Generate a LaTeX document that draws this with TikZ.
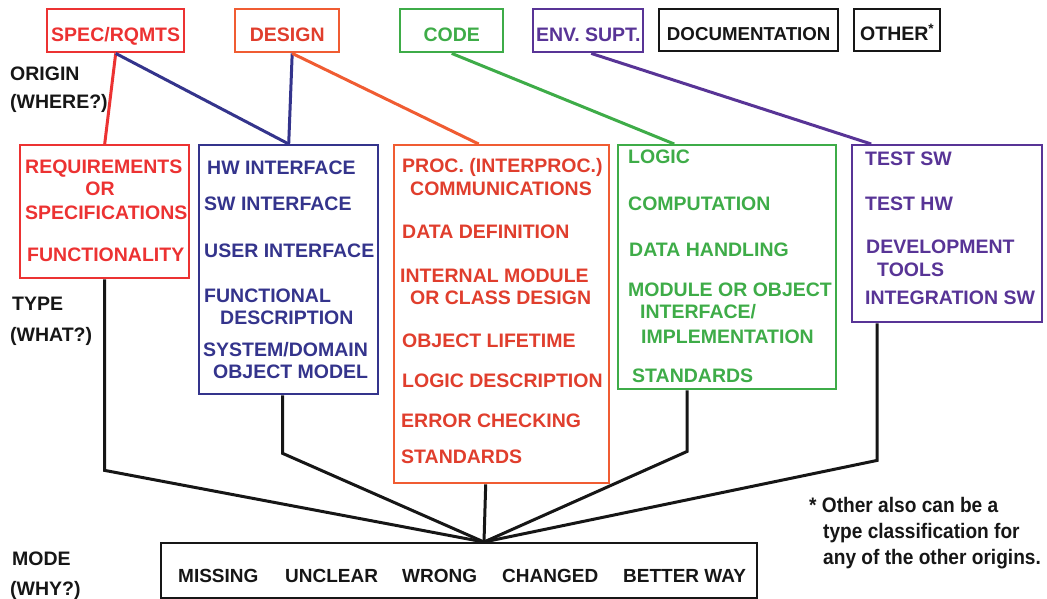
\documentclass[tikz,border=0pt]{standalone}
\usepackage{fontspec}
\setmainfont{Liberation Sans}
\newfontfamily\condfont[FakeStretch=0.91]{Liberation Sans}
\definecolor{cred}{RGB}{236,50,50}
\definecolor{corange}{RGB}{240,92,50}
\definecolor{cdred}{RGB}{224,62,45}
\definecolor{cgreen}{RGB}{62,172,72}
\definecolor{cnavy}{RGB}{52,52,140}
\definecolor{cpurple}{RGB}{88,52,150}
\definecolor{cblack}{RGB}{22,22,22}
\begin{document}
\begin{tikzpicture}[x=1pt,y=-1pt,
  box/.style={draw, line width=2.4pt, inner sep=0pt, anchor=north west},
  topbox/.style={box, font=\fontsize{19.5}{22}\selectfont\bfseries, text height=21pt, text depth=0pt},
  lbl/.style={inner sep=0pt, anchor=base west, font=\fontsize{19.5}{22}\selectfont\bfseries},
  mtxt/.style={inner sep=0pt, anchor=base west, font=\fontsize{19}{22}\selectfont\bfseries, text=cblack},
  note/.style={inner sep=0pt, anchor=base west, font=\condfont\fontsize{21}{24}\selectfont\bfseries, text=cblack},
  conn/.style={line width=3pt},
  link/.style={line width=3pt, draw=cblack},
]
\useasboundingbox (0,0) rectangle (1047,599);

% ---------- origin boxes ----------
\node[topbox, draw=cred, text=cred, minimum width=137pt, minimum height=43pt] (spec) at (46,8) {SPEC/RQMTS};
\node[topbox, draw=corange, text=cdred, minimum width=104pt, minimum height=43pt] (design) at (234,8) {DESIGN};
\node[topbox, draw=cgreen, text=cgreen, minimum width=103pt, minimum height=43pt] (code) at (399,8) {CODE};
\node[topbox, draw=cpurple, text=cpurple, minimum width=110pt, minimum height=43pt] (env) at (532,8) {ENV. SUPT.};
\node[topbox, draw=cblack, text=cblack, minimum width=179pt, minimum height=42pt, font=\fontsize{18.7}{22}\selectfont\bfseries] (doc) at (658,8) {DOCUMENTATION};
\node[topbox, draw=cblack, text=cblack, minimum width=86pt, minimum height=42pt] (other) at (853,8) {OTHER\textsuperscript{*}};

% ---------- type boxes ----------
\node[box, draw=cred, minimum width=169pt, minimum height=133pt] (req) at (19,144) {};
\node[box, draw=cnavy, minimum width=179pt, minimum height=249pt] (blue) at (198,144) {};
\node[box, draw=corange, minimum width=215pt, minimum height=338pt] (red) at (393,144) {};
\node[box, draw=cgreen, minimum width=218pt, minimum height=244pt] (green) at (617,144) {};
\node[box, draw=cpurple, minimum width=190pt, minimum height=177pt] (purple) at (851,144) {};

% ---------- mode box ----------
\node[box, draw=cblack, minimum width=596pt, minimum height=55pt] (mode) at (160,542) {};
\coordinate (conv) at (484,542);

% ---------- connectors ----------
\draw[conn, cred] (spec.south) -- (req.north);
\draw[conn, cnavy] (spec.south) -- (blue.north);
\draw[conn, cnavy] ([xshift=5pt]design.south) -- (blue.north);
\draw[conn, corange] ([xshift=5pt]design.south) -- ([xshift=-23pt]red.north);
\draw[conn, cgreen] (code.south) -- ([xshift=-53pt]green.north);
\draw[conn, cpurple] ([xshift=3pt]env.south) -- ([xshift=-76pt]purple.north);

\draw[link] (req.south) -- ++(0,191) -- (conv);
\draw[link] ([xshift=-6pt]blue.south) -- ++(0,58) -- (conv);
\draw[link] ([xshift=-16pt]red.south) -- (conv);
\draw[link] ([xshift=-40pt]green.south) -- ++(0,61) -- (conv);
\draw[link] ([xshift=-70pt]purple.south) -- ++(0,137) -- (conv);

% ---------- side labels ----------
\node[lbl, text=cblack] (l1) at (10,81) {ORIGIN};
\node[lbl, text=cblack] (l2) at (10,109) {(WHERE?)};
\node[lbl, text=cblack] (l3) at (12,310) {TYPE};
\node[lbl, text=cblack] (l4) at (10,341) {(WHAT?)};
\node[lbl, text=cblack] (l5) at (12,565) {MODE};
\node[lbl, text=cblack] (l6) at (10,595) {(WHY?)};

% ---------- requirements box text ----------
\node[lbl, text=cred] (r1) at (25,174) {REQUIREMENTS};
\node[lbl, text=cred, anchor=base] (r2) at (100,196) {OR};
\node[lbl, text=cred] (r3) at (25,219) {SPECIFICATIONS};
\node[lbl, text=cred] (r4) at (27,261) {FUNCTIONALITY};

% ---------- interface box text ----------
\node[lbl, text=cnavy] (b1) at (207,175) {HW INTERFACE};
\node[lbl, text=cnavy] (b2) at (204,211) {SW INTERFACE};
\node[lbl, text=cnavy] (b3) at (204,257) {USER INTERFACE};
\node[lbl, text=cnavy] (b4) at (204,302) {FUNCTIONAL};
\node[lbl, text=cnavy] (b5) at (220,324) {DESCRIPTION};
\node[lbl, text=cnavy] (b6) at (203,356) {SYSTEM/DOMAIN};
\node[lbl, text=cnavy] (b7) at (213,378) {OBJECT MODEL};

% ---------- design box text ----------
\node[lbl, text=cdred] (d1) at (402,172) {PROC. (INTERPROC.)};
\node[lbl, text=cdred] (d2) at (410,195) {COMMUNICATIONS};
\node[lbl, text=cdred] (d3) at (402,238) {DATA DEFINITION};
\node[lbl, text=cdred] (d4) at (400,282) {INTERNAL MODULE};
\node[lbl, text=cdred] (d5) at (410,304) {OR CLASS DESIGN};
\node[lbl, text=cdred] (d6) at (402,347) {OBJECT LIFETIME};
\node[lbl, text=cdred] (d7) at (402,387) {LOGIC DESCRIPTION};
\node[lbl, text=cdred] (d8) at (401,427) {ERROR CHECKING};
\node[lbl, text=cdred] (d9) at (401,463) {STANDARDS};

% ---------- code box text ----------
\node[lbl, text=cgreen] (g1) at (628,164) {LOGIC};
\node[lbl, text=cgreen] (g2) at (628,210) {COMPUTATION};
\node[lbl, text=cgreen] (g3) at (629,256) {DATA HANDLING};
\node[lbl, text=cgreen] (g4) at (628,296) {MODULE OR OBJECT};
\node[lbl, text=cgreen] (g5) at (640,318) {INTERFACE/};
\node[lbl, text=cgreen] (g6) at (641,343) {IMPLEMENTATION};
\node[lbl, text=cgreen] (g7) at (632,382) {STANDARDS};

% ---------- env box text ----------
\node[lbl, text=cpurple] (p1) at (865,165) {TEST SW};
\node[lbl, text=cpurple] (p2) at (865,210) {TEST HW};
\node[lbl, text=cpurple] (p3) at (866,253) {DEVELOPMENT};
\node[lbl, text=cpurple] (p4) at (877,276) {TOOLS};
\node[lbl, text=cpurple] (p5) at (865,304) {INTEGRATION SW};

% ---------- mode text ----------
\node[mtxt] (m1) at (178,582) {MISSING};
\node[mtxt] (m2) at (285,582) {UNCLEAR};
\node[mtxt] (m3) at (402,582) {WRONG};
\node[mtxt] (m4) at (502,582) {CHANGED};
\node[mtxt] (m5) at (623,582) {BETTER WAY};

% ---------- footnote ----------
\node[note] (n1) at (809,512) {* Other also can be a};
\node[note] (n2) at (823,538) {type classification for};
\node[note] (n3) at (823,564) {any of the other origins.};
\end{tikzpicture}
\end{document}
